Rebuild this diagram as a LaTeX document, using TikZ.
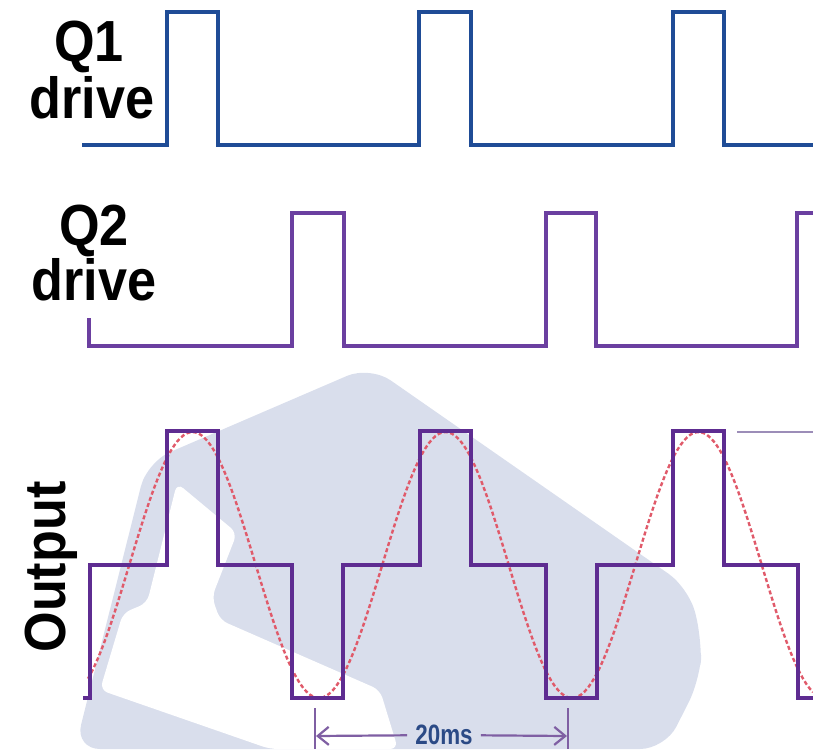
\documentclass[tikz,border=0pt]{standalone}
\usepackage{fontspec}
\setsansfont{Liberation Sans}
\newfontfamily\tallfont[FakeStretch=0.9]{Liberation Sans}
\newfontfamily\narrowfont[FakeStretch=0.8]{Liberation Sans}
\usetikzlibrary{arrows.meta,positioning}

\definecolor{qoneblue}{HTML}{1F4C96}
\definecolor{qtwopurple}{HTML}{6B3FA0}
\definecolor{outpurple}{HTML}{5E2C91}
\definecolor{sinered}{HTML}{E05A6A}
\definecolor{dimpurple}{HTML}{7F5FA3}
\definecolor{dimblue}{HTML}{2B4A86}
\definecolor{amppurple}{HTML}{9C8DB8}
\definecolor{wmark}{HTML}{D9DEEC}

\tikzset{
  lbl/.style={font=\tallfont\bfseries\fontsize{58}{58}\selectfont,inner sep=0pt,anchor=base},
  wave/.style={line width=3.6pt,line join=miter},
  sinewave/.style={sinered,line width=2.4pt,dash pattern=on 4pt off 2.5pt},
  dimline/.style={dimpurple,line width=2.2pt},
  dimtip/.style={-{Straight Barb[length=11pt,width=18pt]}}
}

\begin{document}
\begin{tikzpicture}[x=1pt,y=-1pt]
\useasboundingbox (0,0) rectangle (813,749);

% watermark in the back
\fill[wmark,rounded corners=25pt] (370,366) -- (689,588) -- (702,640) -- (700,680) -- (665,749) -- (75,749) -- (147,462) -- cycle;
\fill[white,rounded corners=8pt] (177,483) -- (237,533) -- (212,597) -- (220,620) -- (380,690) -- (398,749) -- (270,749) -- (100,690) -- (123,613) -- (147,603) -- cycle;

% labels
\node[lbl] (q1lbl) at (89,62) {Q1};
\node[lbl] (q1drv) at (92,118) {drive};
\node[lbl] (q2lbl) at (94,245) {Q2};
\node[lbl] (q2drv) at (94,300) {drive};
\node[lbl,rotate=90] (outlbl) at (65,567) {Output};

% Q1 drive
\draw[wave,qoneblue] (82,145) -- (167,145) -- (167,12) -- (218,12) -- (218,145) -- (419,145) -- (419,12) -- (471,12) -- (471,145) -- (673,145) -- (673,12) -- (724,12) -- (724,145) -- (813,145);

% Q2 drive
\draw[wave,qtwopurple] (89,318) -- (89,346) -- (292,346) -- (292,213) -- (344,213) -- (344,346) -- (546,346) -- (546,213) -- (596,213) -- (596,346) -- (797,346) -- (797,213) -- (813,213);

% sine that the output stands for
\draw[sinewave] plot[domain=88:813,samples=220] (\x,{565-133*cos(1.42292*(\x-192.5))});

% stepped output
\draw[wave,outpurple,line width=4.4pt] (83,698) -- (90,698) -- (90,565) -- (167,565) -- (167,431) -- (218,431) -- (218,565) -- (292,565) -- (292,698) -- (343,698) -- (343,565) -- (420,565) -- (420,431) -- (471,431) -- (471,565) -- (546,565) -- (546,698) -- (597,698) -- (597,565) -- (673,565) -- (673,431) -- (724,431) -- (724,565) -- (798,565) -- (798,698) -- (813,698);

% amplitude line
\coordinate (ampL) at (737,432);
\coordinate (ampR) at (813,432);
\draw[amppurple,line width=2.2pt] (ampL) -- (ampR);

% 20ms period
\coordinate (tickLa) at (315,708);
\coordinate (tickLb) at (315,749);
\coordinate (tickRa) at (568,708);
\coordinate (tickRb) at (568,749);
\coordinate (arrL) at (316,736);
\coordinate (arrR) at (567,736);
\node[font=\narrowfont\bfseries\fontsize{28}{28}\selectfont,text=dimblue,inner sep=8pt] (lbl20) at (444,735) {20ms};
\draw[dimline] (tickLa) -- (tickLb);
\draw[dimline] (tickRa) -- (tickRb);
\draw[dimline,dimtip] (lbl20) -- (arrL);
\draw[dimline,dimtip] (lbl20) -- (arrR);
\end{tikzpicture}
\end{document}
